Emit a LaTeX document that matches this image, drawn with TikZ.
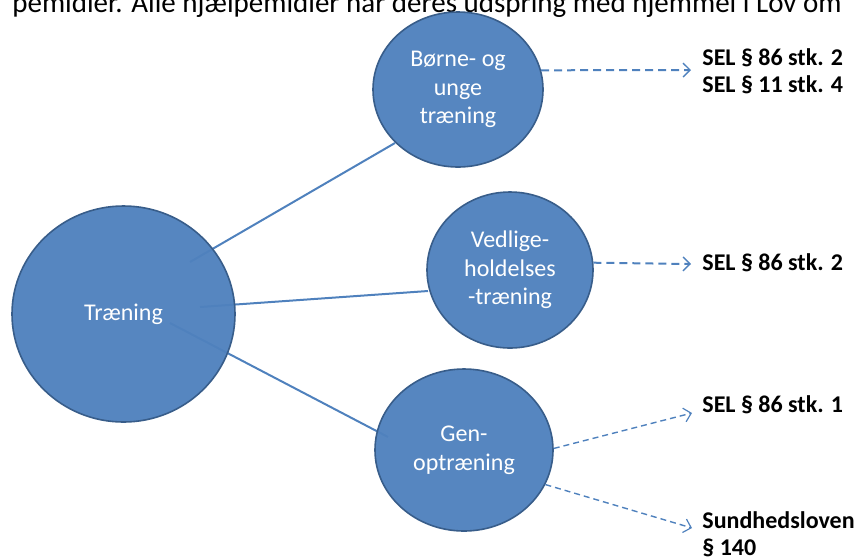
\documentclass[tikz,border=0pt]{standalone}
\usepackage{fontspec}
\setmainfont{Carlito}
\usetikzlibrary{shapes.geometric,arrows.meta,calc}
\definecolor{cfill}{HTML}{4F81BD}
\definecolor{cedge}{HTML}{385D8A}
\begin{document}
\begin{tikzpicture}[x=0.5pt,y=-0.5pt,
  bub/.style={ellipse,draw=cedge,line width=0.8pt,fill=cfill,fill opacity=0.96,text opacity=1,
    text=white,inner sep=0pt,align=center,font=\fontsize{12}{14.3}\selectfont},
  link/.style={draw=cfill,line width=1pt},
  ref/.style={anchor=west,inner sep=0pt,align=left,font=\bfseries\fontsize{12}{13.6}\selectfont},
  dashbold/.style={draw=cfill,line width=1pt,dash pattern=on 4pt off 2.5pt,
    -{Straight Barb[length=3.5pt,width=7pt,line width=0.7pt]}},
  dashthin/.style={draw=cfill,line width=0.7pt,dash pattern=on 3pt off 2pt,
    -{Straight Barb[length=3.5pt,width=7pt,line width=0.6pt]}}]
\useasboundingbox (0,0) rectangle (857,559);
\clip (0,0) rectangle (857,559);
\node[anchor=base west,inner sep=0pt,font=\fontsize{14.5}{17}\selectfont] (top) at (12,12)
  {pemidler. Alle hjælpemidler har deres udspring med hjemmel i Lov om};
% line start/end points
\coordinate (a1) at (190,262);
\coordinate (b1) at (395,143);
\coordinate (a2) at (200,307);
\coordinate (b2) at (428,291);
\coordinate (a3) at (170,323);
\coordinate (b3) at (388,437);
\draw[link] (a1) -- (b1);
\draw[link] (a2) -- (b2);
\draw[link] (a3) -- (b3);
% circles
\node[bub,minimum width=111.5pt,minimum height=108pt] (tr) at (123.5,314) {Træning};
\node[bub,minimum width=85pt,minimum height=77.5pt] (bo) at (458,89.5) {Børne- og\\unge\\træning};
\node[bub,minimum width=83pt,minimum height=78pt] (ve) at (510,270) {Vedlige-\\holdelses\\-træning};
\node[bub,minimum width=89pt,minimum height=81pt] (ge) at (464,450) {Gen-\\optræning};
% labels
\node[ref] (l1) at (702,71.5) {SEL § 86 stk. 2\\SEL § 11 stk. 4};
\node[ref] (l2) at (702,263) {SEL § 86 stk. 2};
\node[ref] (l3) at (702,405) {SEL § 86 stk. 1};
\node[ref] (l4) at (702,534) {Sundhedsloven\\§ 140};
% arrow ends
\coordinate (e1) at (691,70);
\coordinate (e2) at (691,264);
\coordinate (e3) at (692,413);
\coordinate (e4) at (692,528);
\draw[dashbold] (bo.13) -- (e1);
\draw[dashbold] (ve.5) -- (e2);
\draw[dashthin] (ge.1) -- (e3);
\draw[dashthin] (ge.-23) -- (e4);
\end{tikzpicture}
\end{document}
